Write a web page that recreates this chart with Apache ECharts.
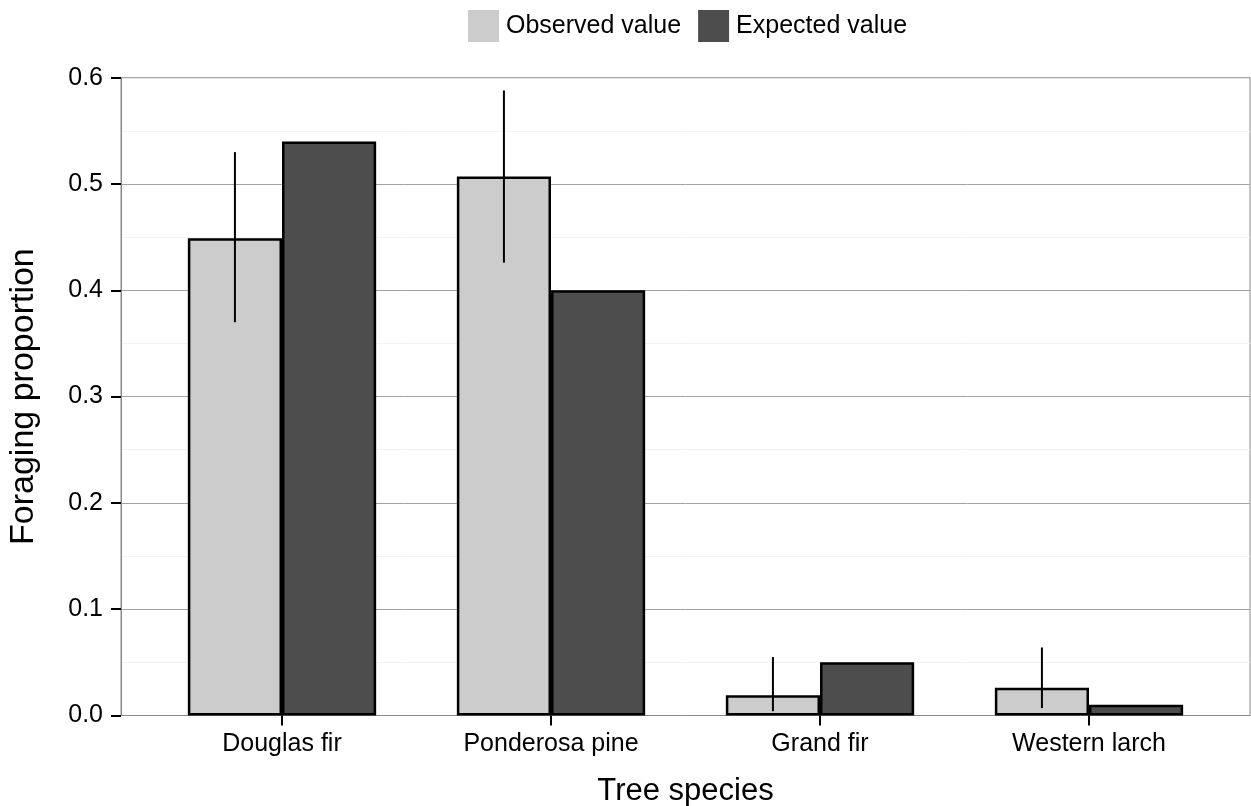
<!DOCTYPE html>
<html>
<head>
<meta charset="utf-8">
<title>Foraging proportion by tree species</title>
<script src="https://cdn.jsdelivr.net/npm/echarts@6/dist/echarts.min.js"></script>
<style>
  html, body { margin: 0; padding: 0; background: #ffffff; }
  #chart { width: 1251px; height: 806px; }
</style>
</head>
<body>
<div id="chart"></div>
<script>
// Tree species and foraging proportions
const categories = ['Douglas fir', 'Ponderosa pine', 'Grand fir', 'Western larch'];
const observed = [0.449, 0.507, 0.019, 0.026];
const expected = [0.54, 0.40, 0.05, 0.01];
// confidence interval bounds for the observed values
const ciLower = [0.370, 0.426, 0.004, 0.007];
const ciUpper = [0.530, 0.588, 0.055, 0.064];
const yMin = 0, yMax = 0.6, yStep = 0.1;

const FONT = '"Liberation Sans", Arial, Helvetica, sans-serif';
const BAR_FRACTION = 0.35; // each bar's share of a category band

const chart = echarts.init(document.getElementById('chart'), null, { renderer: 'canvas' });

const panel = { top: 77.7, bottom: 90.5 };

chart.setOption({
  animation: false,
  backgroundColor: '#ffffff',
  textStyle: { fontFamily: FONT },
  legend: {
    left: 468,
    top: 10,
    padding: 0,
    itemWidth: 31,
    itemHeight: 32,
    itemGap: 17,
    icon: 'rect',
    itemStyle: { borderWidth: 0 },
    textStyle: { fontSize: 25, color: '#000000', fontFamily: FONT, padding: [5, 0, 0, 2] },
    data: ['Observed value', 'Expected value']
  },
  grid: [
    // panel frame with value gridlines
    { left: 121, right: 1, top: panel.top, bottom: panel.bottom, show: true,
      containLabel: false, outerBoundsMode: 'none',
      borderColor: '#8a8a8a', borderWidth: 1, backgroundColor: 'transparent' },
    // bar area, categories spaced as in a discrete scale with padding
    { left: 147.5, right: 27.5, top: panel.top, bottom: panel.bottom,
      containLabel: false, outerBoundsMode: 'none' }
  ],
  xAxis: [
    { gridIndex: 0, type: 'value', min: 0, max: 1, show: true,
      axisLine: { show: true, lineStyle: { color: '#8a8a8a', width: 1 } },
      axisTick: { show: false }, axisLabel: { show: false }, splitLine: { show: false } },
    { gridIndex: 1, type: 'category', data: categories, boundaryGap: true,
      axisLine: { show: false },
      axisTick: { show: true, alignWithLabel: true, length: 10, lineStyle: { color: '#000000', width: 2 } },
      axisLabel: { show: true, fontSize: 25, color: '#000000', margin: 16, fontFamily: FONT },
      name: 'Tree species', nameLocation: 'middle', nameGap: 60,
      nameTextStyle: { fontSize: 31, color: '#000000', fontFamily: FONT },
      splitLine: { show: false } }
  ],
  yAxis: [
    { gridIndex: 0, type: 'value', min: yMin, max: yMax, interval: yStep,
      axisLine: { show: true, lineStyle: { color: '#8a8a8a', width: 1 } },
      axisTick: { show: true, length: 10, lineStyle: { color: '#000000', width: 2 } },
      axisLabel: { fontSize: 25, color: '#000000', margin: 18, fontFamily: FONT,
        formatter: v => v.toFixed(1) },
      splitLine: { show: true, lineStyle: { color: '#a3a3a3', width: 1 } },
      minorTick: { show: false, splitNumber: 2 },
      minorSplitLine: { show: true, lineStyle: { color: '#f3f3f3', width: 1 } },
      name: 'Foraging proportion', nameLocation: 'middle', nameGap: 80,
      nameTextStyle: { fontSize: 34, color: '#000000', fontFamily: FONT } },
    { gridIndex: 1, type: 'value', min: yMin, max: yMax, interval: yStep, show: false,
      splitLine: { show: false } }
  ],
  series: [
    { name: 'Observed value', type: 'bar', xAxisIndex: 1, yAxisIndex: 1,
      data: observed, barWidth: (BAR_FRACTION * 100) + '%', barGap: '0%',
      itemStyle: { color: '#cccccc', borderColor: '#000000', borderWidth: 2.5 }, z: 3 },
    { name: 'Expected value', type: 'bar', xAxisIndex: 1, yAxisIndex: 1,
      data: expected, barWidth: (BAR_FRACTION * 100) + '%', barGap: '0%',
      itemStyle: { color: '#4d4d4d', borderColor: '#000000', borderWidth: 2.5 }, z: 3 },
    { name: 'Observed CI', type: 'custom', xAxisIndex: 1, yAxisIndex: 1, z: 5,
      data: categories.map((c, i) => [i, ciLower[i], ciUpper[i]]),
      encode: { x: 0, y: [1, 2] },
      renderItem: function (params, api) {
        const idx = api.value(0);
        const band = api.size([1, 0])[0];
        const lo = api.coord([idx, api.value(1)]);
        const hi = api.coord([idx, api.value(2)]);
        const x = lo[0] - band * BAR_FRACTION / 2;
        return {
          type: 'line',
          shape: { x1: x, y1: lo[1], x2: x, y2: hi[1] },
          style: { stroke: '#000000', lineWidth: 2 }
        };
      } }
  ]
});
</script>
</body>
</html>
